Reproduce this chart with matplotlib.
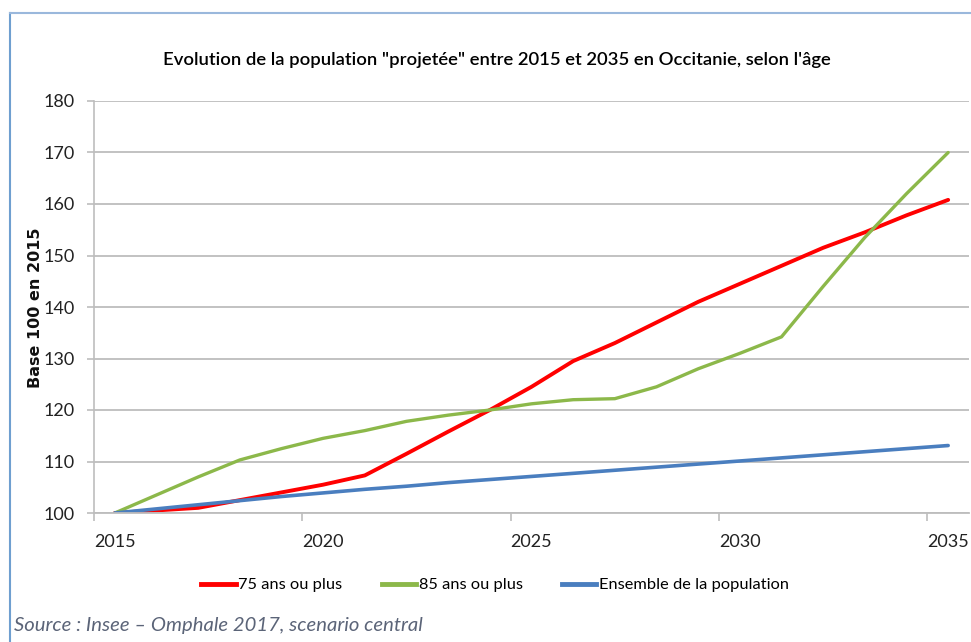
import matplotlib
matplotlib.use("Agg")
import matplotlib.pyplot as plt
from matplotlib.lines import Line2D
import numpy as np

years = list(range(2015, 2036))
pop_75 = [100, 100.5, 101, 102.5, 104, 105.5, 107.3, 111.5, 115.8, 120, 124.5,
          129.5, 133, 137, 141, 144.5, 148, 151.5, 154.5, 157.8, 160.8]
pop_85 = [100, 103.5, 107, 110.3, 112.5, 114.5, 116, 117.8, 119, 120, 121.2,
          122, 122.2, 124.5, 128, 131, 134.2, 144, 153.5, 162, 170]
pop_all = [100, 100.8, 101.6, 102.4, 103.2, 103.9, 104.6, 105.2, 105.9, 106.5, 107.1,
           107.7, 108.3, 108.9, 109.5, 110.1, 110.7, 111.3, 111.9, 112.5, 113.1]
series_labels = ["75 ans ou plus", "85 ans ou plus", "Ensemble de la population"]
series_colors = ["#ff0000", "#8cb84a", "#4a7ebf"]
yticks = [100, 110, 120, 130, 140, 150, 160, 170, 180]
xlabels = ["2015", "2020", "2025", "2030", "2035"]

W, H = 971, 642
fig = plt.figure(figsize=(W / 100, H / 100), dpi=100)
fig.patch.set_facecolor("white")

# outer frame (left and top)
fig.add_artist(Line2D([10 / W, 10 / W], [0, 1 - 13 / H], transform=fig.transFigure,
                      color="#6f9fd0", lw=1.5))
fig.add_artist(Line2D([10 / W, 1], [1 - 13 / H, 1 - 13 / H], transform=fig.transFigure,
                      color="#9ab8dc", lw=1.5))

left, right = 94 / W, 969 / W
bottom, top = 1 - 513 / H, 1 - 101 / H
ax = fig.add_axes([left, bottom, right - left, top - bottom])

x = np.arange(len(years))
widths = [2.8, 2.4, 2.6]
for vals, col, lw in zip([pop_75, pop_85, pop_all], series_colors, widths):
    ax.plot(x, vals, color=col, lw=lw, solid_capstyle="round")

ax.set_xlim(-0.5, len(years) - 0.5)
ax.set_ylim(100, 180)
ax.set_yticks(yticks)
ax.yaxis.grid(True, color="#bdbdbd", lw=1.3)
ax.set_axisbelow(True)

label_pos = [years.index(int(s)) for s in xlabels]
ax.set_xticks(label_pos)
ax.set_xticklabels(xlabels)
ax.tick_params(axis="x", length=0, pad=15)
ax.set_xticks([p - 0.5 for p in label_pos], minor=True)
ax.tick_params(axis="x", which="minor", length=6, color="#bdbdbd", width=1.2)
ax.tick_params(axis="y", length=5, color="#bdbdbd", width=1.2, pad=9)

for s in ["top", "right"]:
    ax.spines[s].set_visible(False)
ax.spines["left"].set_color("#bdbdbd")
ax.spines["left"].set_linewidth(1.2)
ax.spines["bottom"].set_color("#bdbdbd")
ax.spines["bottom"].set_linewidth(1.3)

narrow = ["Lato", "DejaVu Sans"]
for lab in ax.get_xticklabels() + ax.get_yticklabels():
    lab.set_fontfamily(narrow)
    lab.set_fontsize(13)
    lab.set_color("#222222")

fig.text(497 / W, 1 - 60 / H,
         "Evolution de la population \"projetée\" entre 2015 et 2035 en Occitanie, selon l'âge",
         ha="center", va="center", fontsize=13.3, fontweight="semibold", family=narrow,
         color="#000000")

fig.text(35 / W, 1 - 308 / H, "Base 100 en 2015", rotation=90, ha="center", va="center",
         fontsize=11.5, fontweight="bold", family="DejaVu Sans", color="#111111")

handles = [Line2D([], [], color=c, lw=3.5) for c in series_colors]
fig.legend(handles, series_labels, loc="center", bbox_to_anchor=(495 / W, 1 - 585 / H),
           ncol=3, frameon=False, handlelength=2.1, handletextpad=0.15, columnspacing=2.4,
           prop={"family": narrow, "size": 11.8})

fig.text(14 / W, 1 - 626 / H, "Source : Insee \u2013 Omphale 2017, scenario central",
         ha="left", va="center", fontsize=14.6, style="italic", family=["Lato", "DejaVu Sans"],
         color="#5b6478")

fig.savefig("out.png", dpi=100)
